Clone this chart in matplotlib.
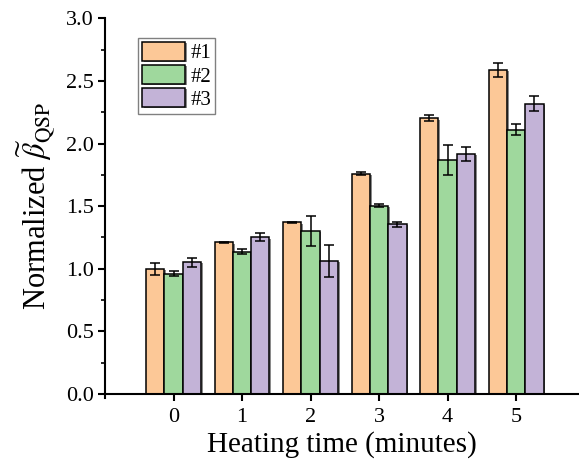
import matplotlib
matplotlib.use("Agg")
import matplotlib.pyplot as plt
import matplotlib.patheffects as pe
import numpy as np

plt.rcParams['font.family'] = ['Liberation Serif', 'DejaVu Serif']
plt.rcParams['mathtext.fontset'] = 'stix'

# heating time groups
times = [0, 1, 2, 3, 4, 5]
labels = ['#1', '#2', '#3']

vals1 = [1.00, 1.21, 1.37, 1.76, 2.20, 2.59]
errs1 = [0.048, 0.006, 0.006, 0.010, 0.024, 0.056]
vals2 = [0.96, 1.135, 1.30, 1.505, 1.87, 2.11]
errs2 = [0.019, 0.020, 0.120, 0.013, 0.120, 0.044]
vals3 = [1.053, 1.25, 1.06, 1.355, 1.915, 2.317]
errs3 = [0.036, 0.032, 0.127, 0.022, 0.056, 0.060]

colors = ['#FCC897', '#9FD89D', '#C3B3D7']

fig = plt.figure(figsize=(5.79, 4.65), dpi=100)
ax = fig.add_axes([0.1813, 0.1527, 0.8167, 0.808])

w = 0.8 / 3
x = np.array(times)
shadow = [pe.SimplePatchShadow(offset=(1.2, -0.8), shadow_rgbFace='0.35', alpha=0.7), pe.Normal()]
for i, (v, e) in enumerate([(vals1, errs1), (vals2, errs2), (vals3, errs3)]):
    pos = x + (i - 1) * w
    bars = ax.bar(pos, v, width=w, color=colors[i], edgecolor='black', linewidth=1.1,
                  label=labels[i], zorder=2)
    for b in bars:
        b.set_path_effects(shadow)
    ax.errorbar(pos, v, yerr=e, fmt='none', ecolor='black', elinewidth=1.1,
                capsize=3.5, capthick=1.1, zorder=3)

ax.set_xlim(-1.0, 5.9)
ax.set_ylim(0, 3.0)
ax.set_xticks(times)
ax.set_yticks([0, 0.5, 1.0, 1.5, 2.0, 2.5, 3.0])
ax.set_yticklabels(['0.0', '0.5', '1.0', '1.5', '2.0', '2.5', '3.0'])
ax.set_yticks(np.arange(0.25, 3.0, 0.5), minor=True)
ax.tick_params(axis='both', which='major', direction='out', length=5, width=1.5, labelsize=16)
ax.tick_params(axis='y', which='minor', direction='out', length=3, width=1.2)
ax.tick_params(axis='x', which='major', pad=5)
ax.tick_params(axis='y', which='major', pad=3)

ax.spines['top'].set_visible(False)
ax.spines['right'].set_visible(False)
ax.spines['left'].set_linewidth(1.5)
ax.spines['bottom'].set_linewidth(1.5)
ax.spines['left'].set_bounds(-0.03, 3.0)

ax.set_xlabel('Heating time (minutes)', fontsize=21, labelpad=3)
ax.set_ylabel(r'Normalized $\widetilde{\beta}_{\mathrm{QSP}}$', fontsize=22, labelpad=6)

leg = ax.legend(loc='upper left', bbox_to_anchor=(0.07, 0.948), borderaxespad=0,
                fontsize=15, handlelength=2.05, handleheight=1.0, handletextpad=0.25,
                labelspacing=0.08, borderpad=0.2, fancybox=False, edgecolor='0.5',
                framealpha=1)
leg.get_frame().set_linewidth(1.0)

fig.savefig('out.png', dpi=100)
